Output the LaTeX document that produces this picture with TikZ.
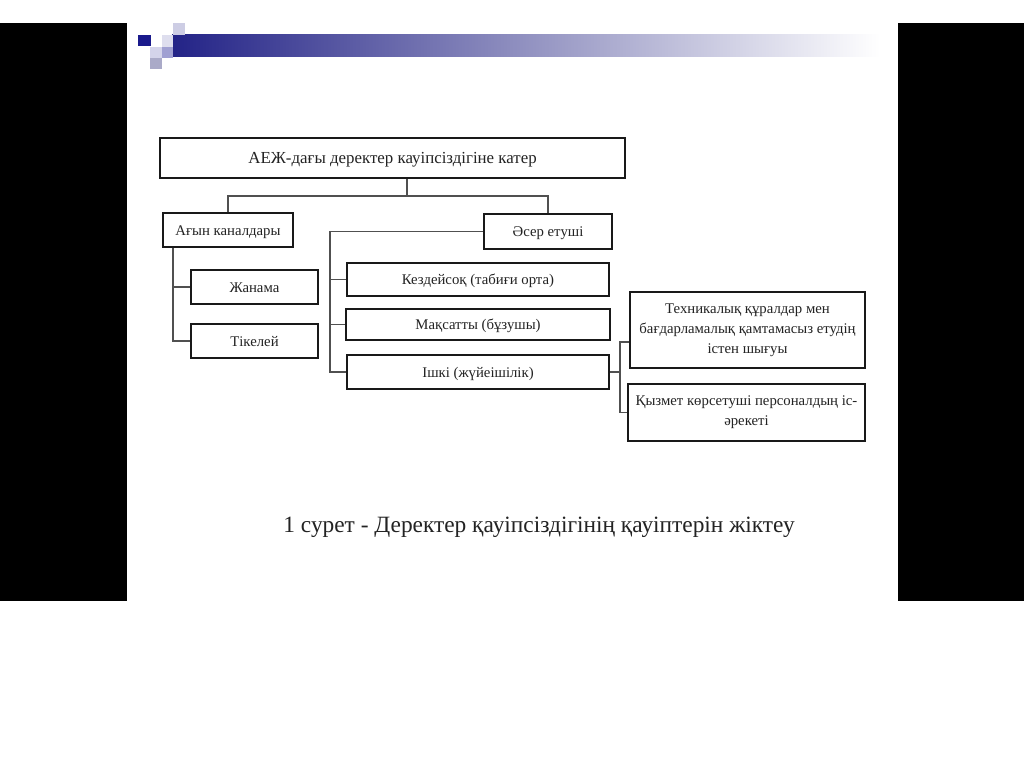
\documentclass[tikz,border=0pt]{standalone}
\usepackage{fontspec}
\setmainfont{Liberation Serif}
\begin{document}
\begin{tikzpicture}[x=0.02cm,y=-0.02cm,
  box/.style={draw=boxc,line width=1.15pt,fill=white,text=txt,font=\fontsize{8.4}{11.4}\selectfont,inner sep=1pt,align=center},
  one/.style={text height=6.2pt,text depth=0pt},
  conn/.style={draw=linec,line width=0.75pt},
]
\definecolor{boxc}{RGB}{25,25,25}
\definecolor{linec}{RGB}{80,80,80}
\definecolor{txt}{RGB}{35,35,35}
\definecolor{barA}{RGB}{35,35,135}
\definecolor{barB}{RGB}{150,150,195}
\definecolor{sqA}{RGB}{26,26,140}
\definecolor{sqB}{RGB}{205,205,228}
\definecolor{sqC}{RGB}{222,222,238}
\definecolor{sqD}{RGB}{212,212,234}
\definecolor{sqE}{RGB}{160,160,210}
\definecolor{sqF}{RGB}{170,170,200}
\useasboundingbox (0,0) rectangle (1024,767);
\fill[white] (0,0) rectangle (1024,767);
% black side bars
\fill[black] (0,23) rectangle (127,601);
\fill[black] (898,23) rectangle (1024,601);
% header decoration
\shade[left color=barA,right color=barB] (172,35) rectangle (540,57);
\shade[left color=barB,right color=white] (540,35) rectangle (880,57);
\fill[sqA] (138,35) rectangle (151,46);
\fill[sqB] (173,23) rectangle (185,35);
\fill[sqC] (162,35) rectangle (173,47);
\fill[sqD] (150,47) rectangle (162,58);
\fill[sqE] (162,47) rectangle (173,58);
\fill[sqF] (150,58) rectangle (162,69);
% boxes
\node[box,one,minimum width=9.3cm,minimum height=0.8cm,font=\fontsize{9.6}{11}\selectfont] (top) at (392.5,158) {АЕЖ-дағы деректер кауіпсіздігіне катер};
\node[box,one,minimum width=2.6cm,minimum height=0.68cm] (agyn) at (228,230) {Ағын каналдары};
\node[box,one,minimum width=2.56cm,minimum height=0.7cm] (aser) at (548,231.5) {Әсер етуші};
\node[box,one,minimum width=2.54cm,minimum height=0.68cm] (zhan) at (254.5,287) {Жанама};
\node[box,one,minimum width=2.54cm,minimum height=0.68cm] (tik) at (254.5,341) {Тікелей};
\node[box,one,minimum width=5.24cm,minimum height=0.66cm] (kez) at (478,279.5) {Кездейсоқ (табиғи орта)};
\node[box,one,minimum width=5.3cm,minimum height=0.62cm] (mak) at (478,324.5) {Мақсатты (бұзушы)};
\node[box,one,minimum width=5.24cm,minimum height=0.68cm] (ish) at (478,372) {Ішкі (жүйеішілік)};
\node[box,minimum width=4.7cm,minimum height=1.52cm] (tekh) at (747.5,330) {Техникалық құралдар мен\\бағдарламалық қамтамасыз етудің\\істен шығуы};
\node[box,minimum width=4.74cm,minimum height=1.14cm] (kyz) at (746.5,412.5) {Қызмет көрсетуші персоналдың іс-\\әрекеті};
% connectors
\coordinate (bus) at (407,196);
\coordinate (lx) at (173,0);
\coordinate (rx) at (330,0);
\coordinate (fx) at (620,0);
\draw[conn] (top.south -| bus) -- (bus);
\draw[conn] (agyn.north) |- (bus) -| (aser.north);
\draw[conn] (agyn.south -| lx) |- (tik.west);
\draw[conn] (zhan.west) -- (zhan.west -| lx);
\draw[conn] (aser.west) -| (ish.west -| rx) -- (ish.west);
\draw[conn] (kez.west) -- (kez.west -| rx);
\draw[conn] (mak.west) -- (mak.west -| rx);
\draw[conn] (ish.east) -- (ish.east -| fx);
\draw[conn] ([yshift=-0.24cm]tekh.west) -| (kyz.west -| fx) -- (kyz.west);
% caption
\node[text=txt,font=\fontsize{13.3}{15}\selectfont,inner sep=0pt] (cap) at (539,527) {1 сурет - Деректер қауіпсіздігінің қауіптерін жіктеу};
\end{tikzpicture}
\end{document}
